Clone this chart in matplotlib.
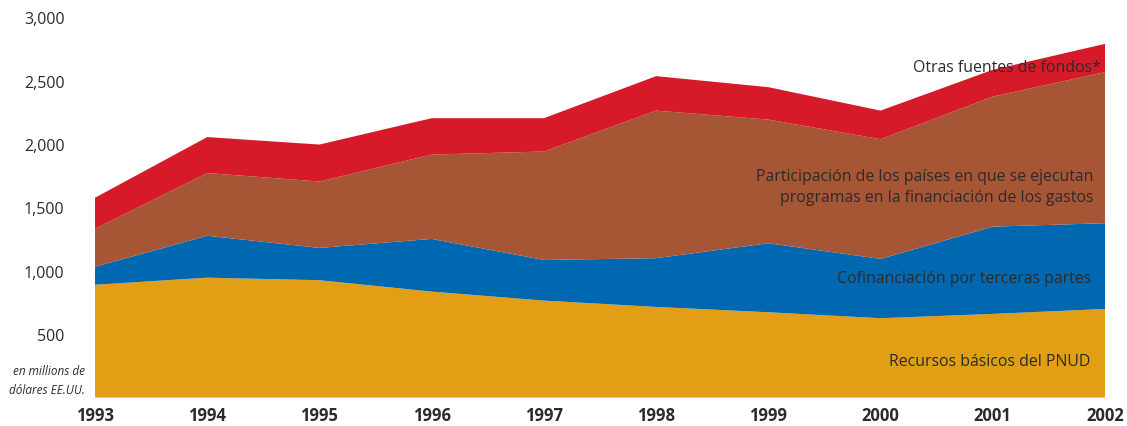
import matplotlib.pyplot as plt

years = [1993, 1994, 1995, 1996, 1997, 1998, 1999, 2000, 2001, 2002]
recursos_basicos = [890, 946, 926, 836, 765, 715, 673, 626, 660, 699]
cofinanciacion = [142, 331, 255, 416, 321, 385, 545, 468, 689, 677]
participacion = [300, 495, 524, 666, 856, 1165, 976, 945, 1027, 1193]
otras_fuentes = [245, 284, 292, 287, 263, 272, 256, 226, 211, 223]

y_ticks = [500, 1000, 1500, 2000, 2500, 3000]
y_tick_labels = ["500", "1,000", "1,500", "2,000", "2,500", "3,000"]

colores = ["#E29F15", "#0068B1", "#A65535", "#D71A2A"]
texto = "#2B2B2B"

plt.rcParams['font.family'] = ['Open Sans', 'DejaVu Sans']

fig = plt.figure(figsize=(11.27, 4.27), dpi=100)
ax = fig.add_axes([95 / 1127, 28.5 / 427, 1010 / 1127, 380 / 427])

ax.stackplot(years, recursos_basicos, cofinanciacion, participacion, otras_fuentes,
             colors=colores, linewidth=0)
ax.axhline(0, color="#C8922A", lw=1)

ax.set_xlim(1993, 2002)
ax.set_ylim(0, 3000)
for s in ax.spines.values():
    s.set_visible(False)

ax.set_yticks(y_ticks)
ax.set_yticklabels(y_tick_labels, fontsize=11.5, color=texto)
ax.set_xticks(years)
ax.set_xticklabels([str(y) for y in years], fontsize=12, fontweight="bold", color=texto)
ax.tick_params(axis="y", length=0, pad=22)
ax.tick_params(axis="x", length=0, pad=6)

# etiquetas de las series
ax.text(2001.96, 2608, "Otras fuentes de fondos*", ha="right", va="center",
        fontsize=11.4, color=texto)
ax.text(2001.9, 1665, "Participación de los países en que se ejecutan\nprogramas en la financiación de los gastos",
        ha="right", va="center", fontsize=11.4, color=texto, linespacing=1.35)
ax.text(2001.88, 942, "Cofinanciación por terceras partes", ha="right", va="center",
        fontsize=11.4, color=texto)
ax.text(2001.87, 285, "Recursos básicos del PNUD", ha="right", va="center",
        fontsize=11.4, color=texto)

fig.text(85 / 1127, 1 - 381 / 427, "en millions de\ndólares EE.UU.", ha="right", va="center",
         fontsize=8.5, style="italic", color=texto, linespacing=1.6)

fig.savefig("out.png", dpi=100)
